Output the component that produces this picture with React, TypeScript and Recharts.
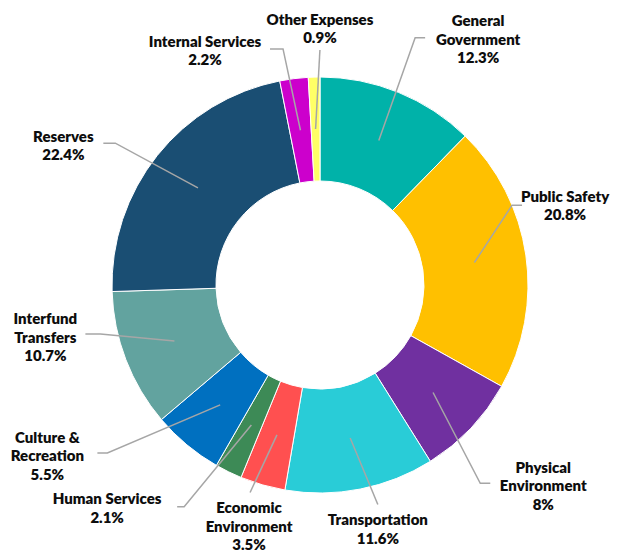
import { PieChart, Pie, Cell } from 'recharts';

const categories = [
  'General Government',
  'Public Safety',
  'Physical Environment',
  'Transportation',
  'Economic Environment',
  'Human Services',
  'Culture & Recreation',
  'Interfund Transfers',
  'Reserves',
  'Internal Services',
  'Other Expenses',
];

const shares = [12.3, 20.8, 8, 11.6, 3.5, 2.1, 5.5, 10.7, 22.4, 2.2, 0.9];

// how each label is broken onto lines
const labelLines = [
  ['General', 'Government'],
  ['Public Safety'],
  ['Physical', 'Environment'],
  ['Transportation'],
  ['Economic', 'Environment'],
  ['Human Services'],
  ['Culture &', 'Recreation'],
  ['Interfund', 'Transfers'],
  ['Reserves'],
  ['Internal Services'],
  ['Other Expenses'],
];

const COLORS = [
  '#00B2A9', '#FFC000', '#7030A0', '#29CCD7', '#FF5050', '#3D8A56',
  '#0070C0', '#62A39F', '#1A4E73', '#CC00CC', '#FFFF66',
];

// leader-line layout: elbow radius, angle shift from slice middle,
// horizontal tail, and text-centre offset from the tail end
const LAYOUT = [
  { r: 265, da: 1.1, tail: 10, tx: 53, ty: 1 },
  { r: 208, da: 14.3, tail: 10, tx: 43, ty: 0 },
  { r: 255, da: -7.5, tail: 10, tx: 53, ty: 2 },
  { r: 227, da: 3.6, tail: 0, tx: 0, ty: 24 },
  { r: 219, da: -2.6, tail: 0, tx: -1, ty: 33 },
  { r: 260, da: -5.4, tail: -7, tx: -70, ty: 1 },
  { r: 271, da: -11.9, tail: -10, tx: -50, ty: 2 },
  { r: 225, da: -8.5, tail: -15, tx: -40, ty: 3 },
  { r: 249, da: 3.8, tail: -12, tx: -40, ty: 2 },
  { r: 239, da: 1.7, tail: -13, tx: -65, ty: 1 },
  { r: 235, da: -1.6, tail: 0, tx: 0, ty: -22 },
];

const data = categories.map((name, i) => ({ name, value: shares[i] }));

const RAD = Math.PI / 180;
const LINE_H = 18.5;

function polar(cx: number, cy: number, r: number, deg: number) {
  return { x: cx + r * Math.cos(-deg * RAD), y: cy + r * Math.sin(-deg * RAD) };
}

function LeaderLabel(props: any) {
  const { cx, cy, midAngle, innerRadius, outerRadius, index } = props;
  const lay = LAYOUT[index];
  const start = polar(cx, cy, (innerRadius + outerRadius) / 2, midAngle);
  const elbow = polar(cx, cy, lay.r, midAngle + lay.da);
  const endX = elbow.x + lay.tail;
  const endY = elbow.y;
  const lines = [...labelLines[index], `${shares[index]}%`];
  const tcx = endX + lay.tx;
  const tcy = endY + lay.ty;
  const top = tcy - ((lines.length - 1) * LINE_H) / 2;
  return (
    <g>
      <polyline
        points={`${start.x},${start.y} ${elbow.x},${elbow.y} ${endX},${endY}`}
        fill="none"
        stroke="#A6A6A6"
        strokeWidth={1.5}
      />
      <text
        x={tcx}
        y={top}
        textAnchor="middle"
        dominantBaseline="central"
        fill="#0d0d0d"
        fontFamily="Lato, sans-serif"
        fontWeight={800}
        fontSize={15}
      >
        {lines.map((l, k) => (
          <tspan key={k} x={tcx} dy={k === 0 ? 0 : LINE_H}>{l}</tspan>
        ))}
      </text>
    </g>
  );
}

export default function App() {
  return (
    <div style={{ position: 'absolute', left: 0, top: 0, background: '#fff' }}>
      <PieChart width={625} height={552} margin={{ top: 0, right: 0, bottom: 0, left: 0 }}>
        <Pie
          data={data}
          dataKey="value"
          nameKey="name"
          cx={320}
          cy={285}
          innerRadius={104}
          outerRadius={208}
          startAngle={90}
          endAngle={-270}
          stroke="#fff"
          strokeWidth={1}
          label={LeaderLabel}
          labelLine={false}
          isAnimationActive={false}
        >
          {data.map((d, i) => (
            <Cell key={d.name} fill={COLORS[i]} />
          ))}
        </Pie>
      </PieChart>
    </div>
  );
}
